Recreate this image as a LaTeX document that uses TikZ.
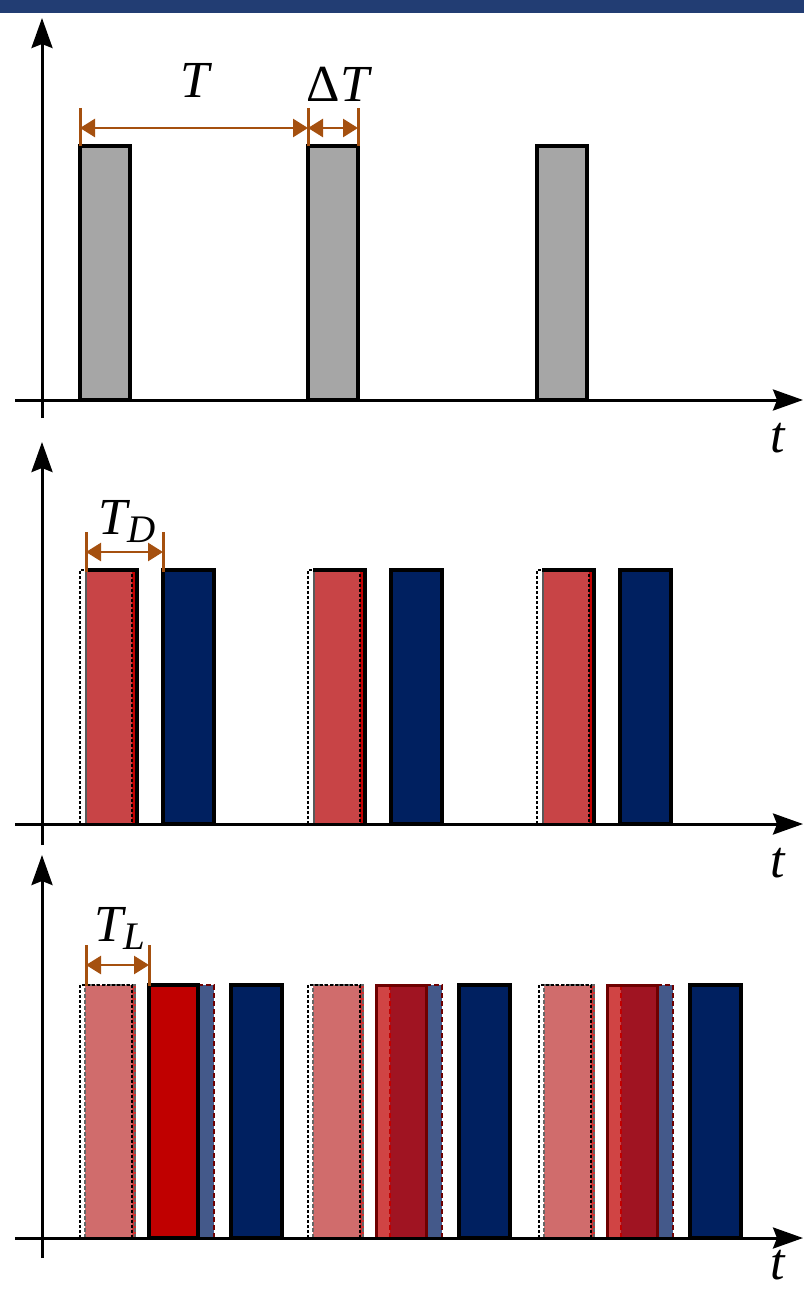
\documentclass[tikz,border=0pt]{standalone}
\usepackage{fontspec}
\setmainfont{Liberation Serif}
\usetikzlibrary{arrows.meta}
\definecolor{topbar}{HTML}{223D73}
\definecolor{grayA}{HTML}{A6A6A6}
\definecolor{dimc}{HTML}{A5500F}
\definecolor{redA}{HTML}{C84446}
\definecolor{redB}{HTML}{C00000}
\definecolor{navy}{HTML}{002060}
\definecolor{pinkA}{HTML}{D06C6C}
\definecolor{dred}{HTML}{A01422}
\definecolor{dredline}{HTML}{6E0000}
\definecolor{lred}{HTML}{D04444}
\definecolor{bgray}{HTML}{44598A}
\tikzset{
  axis/.style={line width=3pt,-{Stealth[length=30pt,width=21pt,inset=4pt]}},
  bar/.style={line width=3.2pt,draw=black},
  dimtick/.style={line width=3pt,draw=dimc},
  dimarr/.style={line width=2.6pt,draw=dimc,{Triangle[length=15pt,width=18pt,fill=dimc]}-{Triangle[length=15pt,width=18pt,fill=dimc]}},
  lab/.style={font=\fontsize{52}{52}\selectfont\itshape,inner sep=0pt},
  dotbox/.style={draw=black,line width=2.4pt,dash pattern=on 2.6pt off 2.4pt},
}
\begin{document}
\begin{tikzpicture}[x=1pt,y=-1pt]
\useasboundingbox (0,0) rectangle (804,1292);
\clip (0,0) rectangle (804,1292);
\fill[topbar] (0,0) rectangle (804,13);
% ---------- Panel 1
\foreach \x in {80,308,537}{
  \draw[bar,fill=grayA] (\x,400) rectangle (\x+50,146);
}
\coordinate (o1) at (42,418); \coordinate (y1) at (42,18);
\coordinate (h1a) at (15,400); \coordinate (h1b) at (803,400);
\draw[axis] (o1) -- (y1);
\draw[axis] (h1a) -- (h1b);
\node[lab] (t1) at (778,438) {t};
\coordinate (a1) at (80,108); \coordinate (a1b) at (80,146);
\coordinate (a2) at (308,108); \coordinate (a2b) at (308,146);
\coordinate (a3) at (358,108); \coordinate (a3b) at (358,146);
\draw[dimtick] (a1) -- (a1b);
\draw[dimtick] (a2) -- (a2b);
\draw[dimtick] (a3) -- (a3b);
\coordinate (d1) at (80,128); \coordinate (d2) at (308,128); \coordinate (d3) at (358,128);
\draw[dimarr] (d1) -- (d2);
\draw[dimarr] (d2) -- (d3);
\node[lab] (TT) at (195,80) {T};
\node[lab] (dT) at (338,84) {{\upshape Δ}T};
% ---------- Panel 2
\foreach \x in {80,308,537}{
  \fill[redA] (\x+5,824) rectangle (\x+57,570);
  \fill[redB] (\x+52,824) rectangle (\x+57,570);
  \draw[line width=2.6pt,draw=black!65] (\x+6,824) -- (\x+6,571);
  \draw[line width=3.2pt] (\x+5,570) -- (\x+57,570) -- (\x+57,824);
  \draw[dotbox] (\x,824) rectangle (\x+52,570);
  \draw[bar,fill=navy] (\x+83,824) rectangle (\x+134,570);
}
\coordinate (o2) at (42,845); \coordinate (y2) at (42,442);
\coordinate (h2a) at (15,824); \coordinate (h2b) at (803,824);
\draw[axis] (o2) -- (y2);
\draw[axis] (h2a) -- (h2b);
\node[lab] (t2) at (778,863) {t};
\coordinate (b1) at (86,532); \coordinate (b1b) at (86,572);
\coordinate (b2) at (163,532); \coordinate (b2b) at (163,572);
\draw[dimtick] (b1) -- (b1b);
\draw[dimtick] (b2) -- (b2b);
\coordinate (e1) at (86,552); \coordinate (e2) at (163,552);
\draw[dimarr] (e1) -- (e2);
\node[lab,anchor=base west] (TD) at (98,534) {T\raisebox{-8pt}{\fontsize{39}{39}\selectfont D}};
% ---------- Panel 3
\foreach \x/\k in {80/0,308/1,539/1}{
  \fill[pinkA] (\x+5,1238) rectangle (\x+55,985);
  \fill[redB!80] (\x+52,1238) rectangle (\x+56,985);
  \draw[draw=black!60,line width=2pt,dash pattern=on 4pt off 2pt] (\x+5,1238) rectangle (\x+55,985);
  \draw[dotbox] (\x,1238) rectangle (\x+52,985);
  % blue-gray strip
  \fill[bgray] (\x+118,1238) rectangle (\x+134,985);
  \draw[draw=dredline,line width=2pt,dash pattern=on 5pt off 3pt] (\x+118,985) -- (\x+134,985) -- (\x+134,1238);
  \ifnum\k=0
    \draw[bar,fill=redB] (\x+69,1238) rectangle (\x+118,985);
  \else
    \fill[dred] (\x+68,1238) rectangle (\x+118,985);
    \fill[lred] (\x+68,1238) rectangle (\x+82,985);
    \draw[draw=redB,line width=1.6pt,dash pattern=on 5pt off 3pt] (\x+82,1238) -- (\x+82,986);
    \draw[draw=dredline,line width=3pt] (\x+68,1238) rectangle (\x+118,985);
  \fi
  \draw[bar,fill=navy] (\x+151,1238) rectangle (\x+202,985);
}
\coordinate (o3) at (42,1258); \coordinate (y3) at (42,855);
\coordinate (h3a) at (15,1238); \coordinate (h3b) at (803,1238);
\draw[axis] (o3) -- (y3);
\draw[axis] (h3a) -- (h3b);
\node[lab] (t3) at (778,1265) {t};
\coordinate (c1) at (86,945); \coordinate (c1b) at (86,986);
\coordinate (c2) at (149,945); \coordinate (c2b) at (149,986);
\draw[dimtick] (c1) -- (c1b);
\draw[dimtick] (c2) -- (c2b);
\coordinate (f1) at (86,965); \coordinate (f2) at (149,965);
\draw[dimarr] (f1) -- (f2);
\node[lab,anchor=base west] (TL) at (94,941) {T\raisebox{-8pt}{\fontsize{39}{39}\selectfont L}};
\end{tikzpicture}
\end{document}
